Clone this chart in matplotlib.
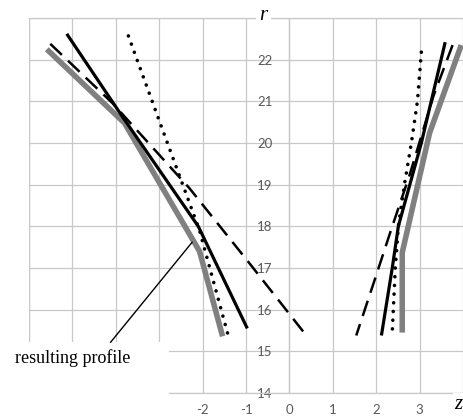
import matplotlib
matplotlib.use('Agg')
import matplotlib.pyplot as plt
from matplotlib.patches import Rectangle

# axis ticks
z_ticks = [-6, -5, -4, -3, -2, -1, 0, 1, 2, 3, 4]
z_labels = ['', '', '', '', '-2', '-1', '0', '1', '2', '3', '']
r_ticks = [14, 15, 16, 17, 18, 19, 20, 21, 22, 23]
r_labels = ['14', '15', '16', '17', '18', '19', '20', '21', '22', '']

# left branch (z < 0)
left_gray_z = [-5.59, -3.80, -2.07, -1.54]
left_gray_r = [22.25, 20.48, 17.40, 15.36]
left_solid_z = [-5.13, -3.84, -2.10, -0.97]
left_solid_r = [22.62, 20.62, 18.00, 15.55]
left_dot_z = [-3.71, -2.98, -2.07, -1.41]
left_dot_r = [22.57, 20.48, 17.90, 15.38]
left_dash_z = [-5.51, -4.08, -2.30, -0.88, 0.39]
left_dash_r = [22.38, 20.96, 18.91, 17.06, 15.38]

# right branch (z > 0)
right_gray_z = [3.96, 3.23, 2.60, 2.60]
right_gray_r = [22.35, 20.24, 17.37, 15.45]
right_solid_z = [3.59, 3.04, 2.51, 2.37, 2.12]
right_solid_r = [22.42, 20.00, 18.00, 17.00, 15.38]
right_dot_z = [3.04, 2.95, 2.81, 2.65, 2.51, 2.44, 2.37]
right_dot_r = [22.18, 21.00, 20.00, 19.00, 18.00, 17.00, 15.45]
right_dash_z = [3.76, 3.32, 2.76, 2.37, 1.96, 1.54]
right_dash_r = [22.35, 21.13, 19.20, 18.00, 16.70, 15.38]

gridc = '#c8c8c8'
labc = '#595959'

fig = plt.figure(figsize=(4.63, 4.19), dpi=100)
ax = fig.add_axes([29/463, 26/419, 434/463, 375/419])
ax.set_xlim(-6, 4)
ax.set_ylim(14, 23)

# grid + spines
ax.set_xticks(z_ticks)
ax.set_xticklabels(z_labels)
ax.set_yticks(r_ticks)
ax.set_yticklabels(r_labels)
ax.grid(True, color=gridc, lw=0.9)
ax.set_axisbelow(True)
for s in ['top', 'bottom', 'left']:
    ax.spines[s].set_color(gridc)
    ax.spines[s].set_linewidth(0.9)
ax.spines['right'].set_visible(False)
# y labels sit next to the z = 0 line
ax.spines['left'].set_position(('data', 0))
ax.tick_params(axis='both', length=0, labelcolor=labc)
ax.tick_params(axis='x', pad=8)
ax.tick_params(axis='y', pad=12)
for t in ax.get_xticklabels() + ax.get_yticklabels():
    t.set_fontfamily('Lato')
    t.set_fontsize(9.5)

# leftmost grid line (spine moved to z=0)
ax.axvline(-6, color=gridc, lw=0.9, zorder=0.5)

# curves
for zz, rr in [(left_gray_z, left_gray_r), (right_gray_z, right_gray_r)]:
    ax.plot(zz, rr, color='#808080', lw=4, solid_capstyle='butt',
            solid_joinstyle='round', zorder=3)
for zz, rr in [(left_solid_z, left_solid_r), (right_solid_z, right_solid_r)]:
    ax.plot(zz, rr, color='black', lw=2.3, solid_capstyle='butt', zorder=4)
for zz, rr in [(left_dot_z, left_dot_r), (right_dot_z, right_dot_r)]:
    ax.plot(zz, rr, color='black', lw=2.6, linestyle=(0, (0.01, 2.4)),
            dash_capstyle='round', zorder=4)
for zz, rr in [(left_dash_z, left_dash_r), (right_dash_z, right_dash_r)]:
    ax.plot(zz, rr, color='black', lw=1.8, linestyle=(0, (6.4, 3.4)),
            dash_capstyle='butt', zorder=4)

# white box behind the label
ax.add_patch(Rectangle((-0.05, -0.2), (169 - 29) / 434 + 0.05, 0.2 + 51 / 375,
                       transform=ax.transAxes, facecolor='white',
                       edgecolor='none', zorder=2.6, clip_on=False))

ax.annotate('resulting profile', xy=(-2.24, 17.62), xytext=(-5.0, 14.83),
            ha='center', va='center', fontsize=13, family='Liberation Serif',
            annotation_clip=False, zorder=5,
            arrowprops=dict(arrowstyle='-', color='black', lw=1,
                            relpos=(0.78, 1.0), shrinkA=4, shrinkB=0))

# axis names
ax.text(-0.6, 23.06, 'r', fontsize=15, style='italic', family='Liberation Serif',
        ha='center', va='center', clip_on=False, zorder=5,
        bbox=dict(facecolor='white', edgecolor='none', pad=2.5))
ax.text(3.9, 13.72, 'z', fontsize=15, style='italic', family='Liberation Serif',
        ha='center', va='center', clip_on=False, zorder=5,
        bbox=dict(facecolor='white', edgecolor='none', pad=1.5))

plt.savefig('out.png', dpi=100)
